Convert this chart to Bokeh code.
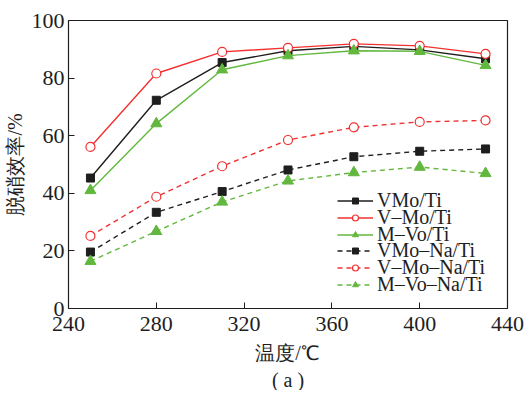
from bokeh.plotting import figure
from bokeh.models import Legend, LegendItem, Title, Range1d, FixedTicker
from bokeh.embed import file_html
from bokeh.resources import INLINE

temps = [250, 280, 310, 340, 370, 400, 430]
vmo_ti = [45.3, 72.3, 85.4, 89.5, 91.0, 89.8, 86.7]
v_mo_ti = [56.1, 81.6, 89.1, 90.5, 91.9, 91.2, 88.4]
m_vo_ti = [41.0, 64.2, 82.9, 87.8, 89.5, 89.3, 84.4]
vmo_na_ti = [19.6, 33.4, 40.6, 48.1, 52.7, 54.6, 55.4]
v_mo_na_ti = [25.2, 38.8, 49.4, 58.5, 62.9, 64.8, 65.3]
m_vo_na_ti = [16.4, 26.8, 37.0, 44.3, 47.2, 49.1, 46.9]
names = ["VMo/Ti", "V\u2013Mo/Ti", "M\u2013Vo/Ti", "VMo\u2013Na/Ti", "V\u2013Mo\u2013Na/Ti", "M\u2013Vo\u2013Na/Ti"]
x_ticks = [240, 280, 320, 360, 400, 440]
y_ticks = [0, 20, 40, 60, 80, 100]

BLACK = "#1e1e1e"
RED = "#f23030"
GREEN = "#62b83e"
FONT = "Liberation Serif"

p = figure(frame_width=439, frame_height=288, output_backend="svg", toolbar_location=None,
           x_range=Range1d(240, 440), y_range=Range1d(0, 100),
           min_border_left=68, min_border_right=18, min_border_top=20, min_border_bottom=0)
p.grid.visible = False
p.outline_line_color = BLACK
p.outline_line_width = 1.2
p.background_fill_color = "white"
p.border_fill_color = "white"

for ax in (p.xaxis[0], p.yaxis[0]):
    ax.major_label_text_font = FONT
    ax.major_label_text_font_size = "22px"
    ax.major_label_text_color = BLACK
    ax.axis_label_text_font = FONT
    ax.axis_label_text_font_size = "20px"
    ax.axis_label_text_font_style = "normal"
    ax.axis_label_text_color = BLACK
    ax.major_tick_in = 6
    ax.major_tick_out = 0
    ax.minor_tick_line_color = None
    ax.axis_line_color = BLACK
    ax.major_tick_line_color = BLACK
    ax.major_label_standoff = 4

p.xaxis.ticker = FixedTicker(ticks=x_ticks)
p.yaxis.ticker = FixedTicker(ticks=y_ticks)
p.xaxis.axis_label = "温度/℃"
p.yaxis.axis_label = "脱硝效率/%"
p.xaxis.major_label_standoff = 8
p.xaxis.axis_label_standoff = 8
p.yaxis.axis_label_standoff = 3

series = [vmo_ti, v_mo_ti, m_vo_ti, vmo_na_ti, v_mo_na_ti, m_vo_na_ti]
colors = [BLACK, RED, GREEN, BLACK, RED, GREEN]
markers = ["square", "circle", "triangle", "square", "circle", "triangle"]
for i, (ys, c, m, n) in enumerate(zip(series, colors, markers, names)):
    dash = "solid" if i < 3 else "5 4"
    r1 = p.line(temps, ys, line_color=c, line_width=1.4, line_dash=dash)
    if m == "square":
        r2 = p.scatter(temps, ys, marker="square", size=8, fill_color=c, line_color=c)
    elif m == "circle":
        r2 = p.scatter(temps, ys, marker="circle", size=9, fill_color="white", line_color=c, line_width=1.2)
    else:
        r2 = p.scatter(temps, ys, marker="triangle", size=11, fill_color=c, line_color=c)
    lg = Legend(items=[LegendItem(label=n, renderers=[r1, r2])],
                location=(269, int(round(96 - 16.8 * i))), background_fill_alpha=0,
                border_line_color=None, label_text_font=FONT, label_text_font_size="20px",
                label_text_color=BLACK, label_text_line_height=0.7, spacing=0, padding=0,
                glyph_width=36, label_standoff=4, margin=0, label_height=15, glyph_height=15)
    p.add_layout(lg, "center")

cap = Title(text="( a )", align="center", text_font=FONT, text_font_size="20px",
            text_font_style="normal", text_color=BLACK, standoff=0, offset=0)
p.add_layout(cap, "below")

open("out.html", "w").write(file_html(p, INLINE))
